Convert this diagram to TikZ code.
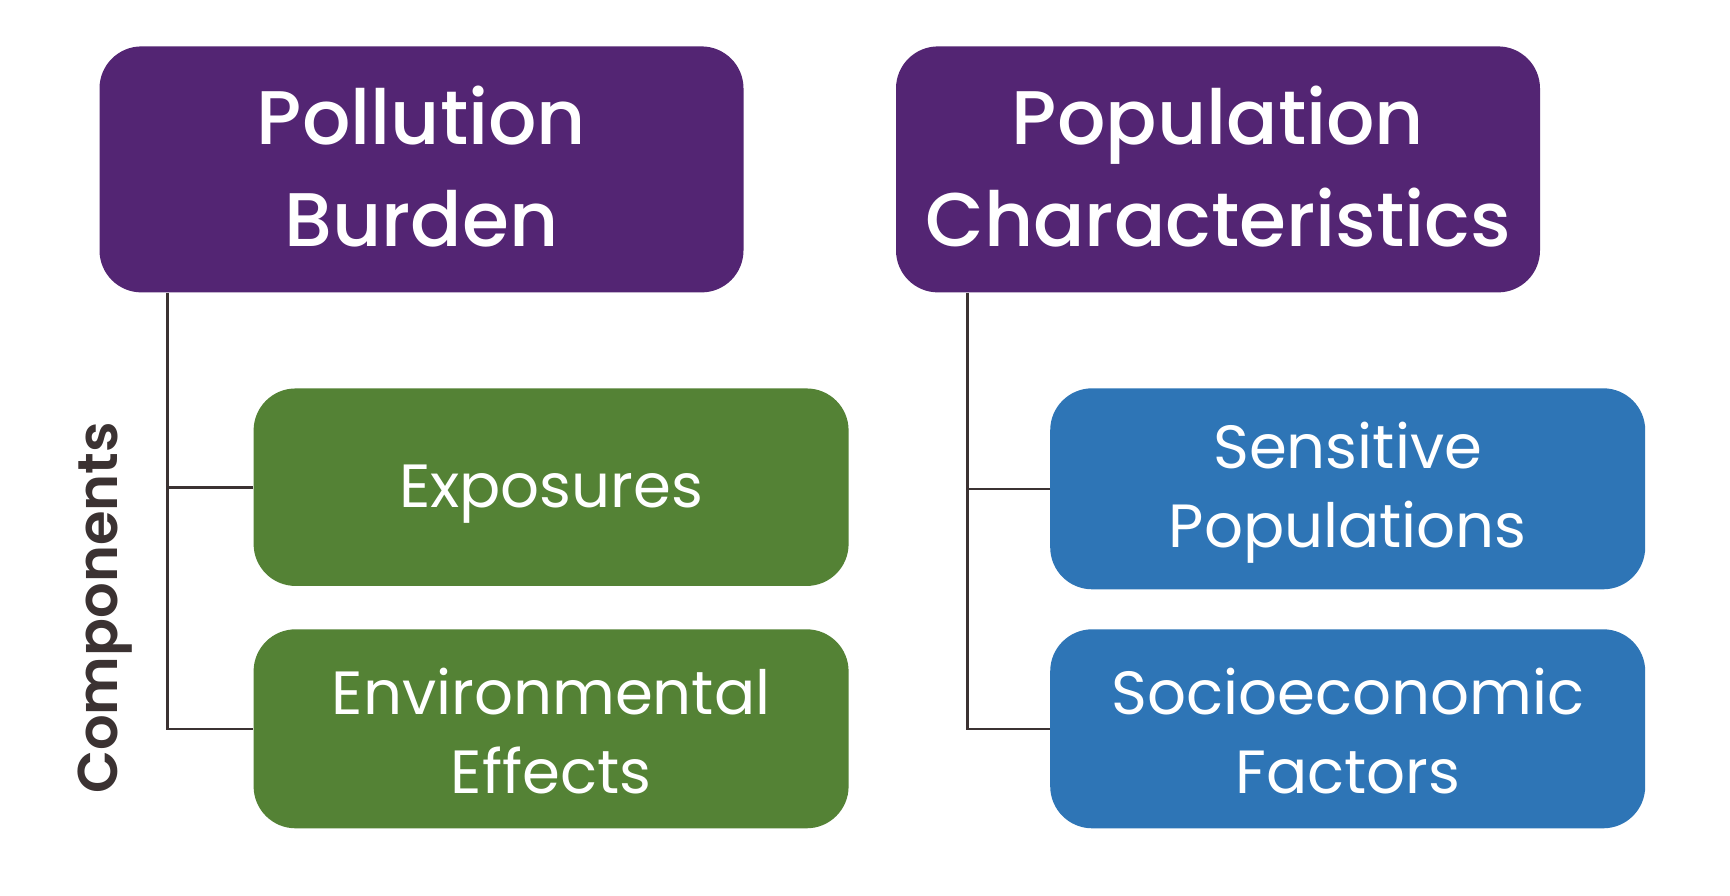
\documentclass[tikz,border=0pt]{standalone}
\usepackage{fontspec}
\setmainfont{Poppins}
\newfontfamily\hdrfont{Poppins Medium}
\newfontfamily\bodyfont{Poppins}
\newfontfamily\lblfont{Poppins SemiBold}
\definecolor{hdrpurple}{HTML}{532573}
\definecolor{grn}{HTML}{548235}
\definecolor{blu}{HTML}{2E75B6}
\definecolor{conncol}{HTML}{3B3232}
\tikzset{
  hdrbox/.style={fill=hdrpurple, rounded corners=42pt, minimum width=644pt, minimum height=246pt,
    inner sep=0pt},
  hdrtext/.style={text=white, align=center, inner sep=0pt, yshift=3pt,
    font=\hdrfont\fontsize{76}{101.5}\selectfont},
  subbox/.style={rounded corners=42pt, minimum width=595pt, minimum height=199pt, inner sep=0pt},
  subtext/.style={text=white, align=center, inner sep=0pt, yshift=-2pt,
    font=\bodyfont\fontsize{61}{79.4}\selectfont},
  conn/.style={draw=conncol, line width=2.6pt}
}
\begin{document}
\begin{tikzpicture}[x=1pt,y=-1pt]
\fill[white] (0,0) rectangle (1730,896);
\useasboundingbox (0,0) rectangle (1730,896);
\node[hdrbox, label={[hdrtext]center:{Pollution\\Burden}}] (PB) at (421.5,169.4) {};
\node[hdrbox, label={[hdrtext]center:{Population\\Characteristics}}] (PC) at (1218,169.4) {};
\node[subbox, fill=grn, minimum height=197.5pt, label={[subtext, yshift=-5pt]center:{Exposures}}] (EX) at (551.1,487.2) {};
\node[subbox, fill=grn, label={[subtext]center:{Environmental\\Effects}}] (EE) at (551.1,728.8) {};
\node[subbox, fill=blu, minimum height=201pt, label={[subtext, yshift=-2pt]center:{Sensitive\\Populations}}] (SP) at (1347.7,488.8) {};
\node[subbox, fill=blu, label={[subtext]center:{Socioeconomic\\Factors}}] (SE) at (1347.7,728.8) {};
\coordinate (LX) at (167.7,0);
\coordinate (RX) at (967.6,0);
\draw[conn] (PB.south -| LX) |- (EE.west);
\draw[conn] (EX.west) -- (EX.west -| LX);
\draw[conn] (PC.south -| RX) |- (SE.west);
\draw[conn] (SP.west) -- (SP.west -| RX);
\node[rotate=90, text=conncol, inner sep=0pt, font=\lblfont\fontsize{56}{60}\selectfont] (CL) at (105,608) {Components};
\end{tikzpicture}
\end{document}
